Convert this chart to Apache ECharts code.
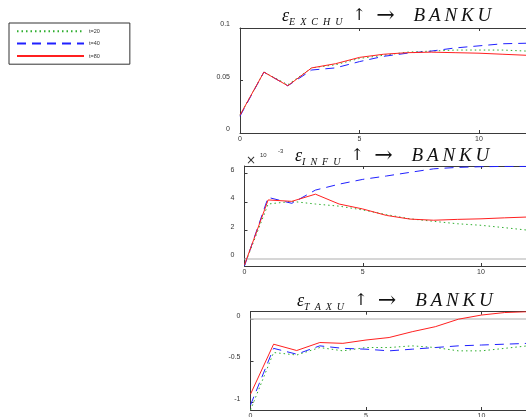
<!DOCTYPE html>
<html>
<head>
<meta charset="utf-8">
<script src="https://cdn.jsdelivr.net/npm/echarts@6/dist/echarts.min.js"></script>
<style>
html,body{margin:0;padding:0;background:#fff;}
#chart{width:526px;height:417px;}
</style>
</head>
<body>
<div id="chart"></div>
<script>
// horizon steps (visible part)
var steps = [0,1,2,3,4,5,6,7,8,9,10,11,12];
var seriesNames = ['t=20','t=40','t=80'];

// Panel 1: eps_EXCHU -> BANKU
var exch_t20 = [0.017,0.058,0.046,0.062,0.065,0.071,0.074,0.077,0.078,0.079,0.079,0.079,0.078];
var exch_t40 = [0.016,0.058,0.045,0.060,0.062,0.068,0.073,0.076,0.078,0.081,0.083,0.085,0.0855];
var exch_t80 = [0.017,0.058,0.045,0.062,0.066,0.072,0.075,0.0765,0.077,0.0765,0.076,0.075,0.074];

// Panel 2: eps_INFU -> BANKU (x 10^-3)
var inf_t20 = [-0.50,3.85,4.04,3.85,3.70,3.43,3.10,2.80,2.62,2.45,2.34,2.17,1.99];
var inf_t40 = [-0.54,4.32,3.90,4.84,5.26,5.60,5.84,6.10,6.35,6.45,6.50,6.52,6.52];
var inf_t80 = [-0.47,4.14,4.04,4.55,3.85,3.50,3.04,2.78,2.70,2.76,2.80,2.87,2.93];

// Panel 3: eps_TAXU -> BANKU
var tax_t20 = [-1.09,-0.40,-0.43,-0.34,-0.38,-0.34,-0.34,-0.32,-0.34,-0.38,-0.38,-0.35,-0.32];
var tax_t40 = [-1.03,-0.35,-0.42,-0.32,-0.35,-0.36,-0.38,-0.36,-0.34,-0.32,-0.31,-0.30,-0.29];
var tax_t80 = [-0.90,-0.30,-0.376,-0.28,-0.29,-0.25,-0.22,-0.15,-0.09,0.00,0.05,0.08,0.09];

var ticks1 = [0,0.05,0.1];
var ticks2 = [0,2,4,6];
var ticks3 = [-1,-0.5,0];
var xTicks = [0,5,10,15,20];
var titleSubs = ['E\u2002X\u2002C\u2002H\u2002U','I\u2002N\u2002F\u2002U','T\u2002A\u2002X\u2002U'];

function pairs(arr){ return steps.map(function(s,i){ return [s, arr[i]]; }); }

var colors = ['#2fae2f','#2020ff','#ff2020'];
var dashes = [[1.5,3],[9,6],'solid'];

var grids = [
  {left:240, top:28, width:478, height:105, outerBoundsMode:'none'},
  {left:244.5, top:166, width:473, height:100, outerBoundsMode:'none'},
  {left:250.5, top:311.7, width:462, height:98.3, outerBoundsMode:'none'}
];
var yRanges = [[0,0.1],[-0.55,6.55],[-1.09,0.09]];
var yTicks = [ticks1,ticks2,ticks3];
var panelData = [[exch_t20,exch_t40,exch_t80],[inf_t20,inf_t40,inf_t80],[tax_t20,tax_t40,tax_t80]];

var axisColor = '#3a3a3a';
var labelStyle = {fontSize:7, color:'#333', fontFamily:'Liberation Sans'};

var xAxes = [], yAxes = [], series = [], titles = [];
var titleLefts = [282,295,297];
var titleTops = [5,145,290];

for (var g=0; g<3; g++){
  xAxes.push({
    type:'value', gridIndex:g, min:0, max:20, position:'bottom',
    axisLine:{show:true, onZero:false, lineStyle:{color:axisColor, width:1}},
    axisTick:{show:true, inside:true, length:3, customValues:xTicks, lineStyle:{color:axisColor}},
    axisLabel:Object.assign({show:true, margin:3, customValues:xTicks}, labelStyle),
    splitLine:{show:false}
  });
  xAxes.push({
    type:'value', gridIndex:g, min:0, max:20, position:'top',
    axisLine:{show:true, onZero:false, lineStyle:{color:axisColor, width:1}},
    axisTick:{show:true, inside:true, length:3, customValues:xTicks, lineStyle:{color:axisColor}},
    axisLabel:{show:false},
    splitLine:{show:false}
  });
  yAxes.push({
    type:'value', gridIndex:g, min:yRanges[g][0], max:yRanges[g][1],
    axisLine:{show:true, onZero:false, lineStyle:{color:axisColor, width:1}},
    axisTick:{show:true, inside:true, length:3, customValues:yTicks[g], lineStyle:{color:axisColor}},
    axisLabel:Object.assign({show:true, margin:10, verticalAlign:'bottom', customValues:yTicks[g],
      formatter:function(v){ return String(Math.round(v*1000)/1000); }}, labelStyle),
    splitLine:{show:false}
  });
  for (var s=0; s<3; s++){
    var ser = {
      name:seriesNames[s], type:'line', xAxisIndex:g*2, yAxisIndex:g,
      data:pairs(panelData[g][s]), symbol:'none', showSymbol:false,
      lineStyle:{color:colors[s], width:1, type:dashes[s]},
      itemStyle:{color:colors[s]},
      z: 3+s
    };
    if (s===0 && g>0){
      ser.markLine = {
        silent:true, symbol:['none','none'], label:{show:false},
        lineStyle:{color:'#c8c8c8', type:'solid', width:1.5},
        data:[{yAxis:0}], animation:false
      };
    }
    series.push(ser);
  }
  var common = {fontFamily:'Liberation Serif', fontWeight:'normal', lineHeight:22, color:'#111'};
  titles.push({
    text:'{e|ε}{s|'+titleSubs[g]+'}{u|  ↑  }{r|→}{b|    B\u2009A\u2009N\u2009K\u2009U}',
    left:titleLefts[g], top:titleTops[g], padding:0,
    textStyle:{
      fontWeight:'normal',
      rich:{
        e:Object.assign({}, common, {fontStyle:'italic', fontSize:18, verticalAlign:'middle'}),
        s:Object.assign({}, common, {fontStyle:'italic', fontSize:10, verticalAlign:'bottom'}),
        u:Object.assign({}, common, {fontFamily:'DejaVu Serif', fontSize:16, verticalAlign:'middle'}),
        r:Object.assign({}, common, {fontFamily:'DejaVu Serif', fontSize:22, verticalAlign:'middle'}),
        b:Object.assign({}, common, {fontStyle:'italic', fontSize:19, verticalAlign:'middle'})
      }
    }
  });
}

var chart = echarts.init(document.getElementById('chart'), null, {renderer:'canvas'});
chart.setOption({
  animation:false,
  backgroundColor:'#fff',
  title:titles,
  legend:{
    data:seriesNames, orient:'vertical', left:9, top:23,
    itemWidth:67, itemHeight:8, itemGap:6, itemTextGap:5,
    padding:[5,30,5,7], borderColor:'#333', borderWidth:1, backgroundColor:'#fff',
    itemStyle:{opacity:0},
    textStyle:{fontSize:5.5, color:'#333', fontFamily:'Liberation Sans'}
  },
  grid:grids,
  xAxis:xAxes,
  yAxis:yAxes,
  series:series,
  graphic:[
    {type:'text', left:246, top:155, style:{text:'×', fontSize:12, fill:'#333', fontFamily:'DejaVu Sans'}},
    {type:'text', left:260, top:152, style:{text:'10', fontSize:6, fill:'#333', fontFamily:'Liberation Sans'}},
    {type:'text', left:278, top:148, style:{text:'-3', fontSize:6, fill:'#333', fontFamily:'Liberation Sans'}}
  ]
});
</script>
</body>
</html>
